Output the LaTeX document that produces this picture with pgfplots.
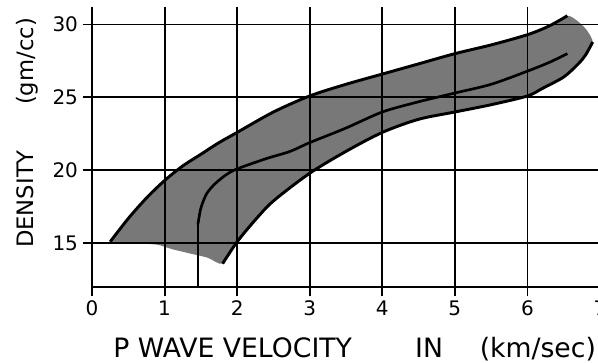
\documentclass[border=0pt]{standalone}
\usepackage{fontspec}
\setmainfont{DejaVu Sans}
\usepackage{pgfplots}
\pgfplotsset{compat=1.18}
\begin{document}
\begin{tikzpicture}
\begin{axis}[
  at={(0,0)}, anchor=south west,
  scale only axis, width=381pt, height=210pt,
  xmin=0, xmax=7, ymin=12, ymax=31.2,
  axis x line*=bottom, axis y line*=left,
  axis line style={black, line width=1.8pt},
  xtick={0,1,2,3,4,5,6,7}, ytick={15,20,25,30},
  grid=major, grid style={black, line width=1.4pt},
  tick align=outside, major tick length=7pt,
  tick style={black, line width=1.4pt},
  ticklabel style={font=\fontsize{15}{15}\selectfont},
  /pgf/number format/assume math mode=true,
  axis on top,
  clip=false,
]
% shaded band
\addplot[draw=none, fill=black!53, smooth, tension=0.4] coordinates {
 (0.25,15.1)(0.5,16.7)(0.75,18.1)(1.0,19.3)(1.25,20.3)(1.5,21.1)(1.75,21.9)(2.0,22.6)
 (2.5,24.0)(3.0,25.1)(3.5,25.9)(4.0,26.6)(4.5,27.3)(5.0,28.0)(5.5,28.6)(6.0,29.3)
 (6.3,29.9)(6.55,30.6)(6.7,30.2)(6.82,29.6)(6.9,28.8)
 (6.8,27.9)(6.7,27.3)(6.5,26.4)(6.2,25.6)(6.0,25.1)(5.5,24.5)(5.0,24.0)(4.5,23.5)
 (4.0,22.6)(3.5,21.3)(3.0,19.8)(2.5,17.9)(2.25,16.6)(2.0,15.1)(1.8,13.6)
 (1.6,14.0)(1.35,14.3)(1.1,14.6)(0.9,14.9)(0.6,15.0)
} -- cycle;
% upper boundary
\addplot[black, line width=2.2pt, smooth] coordinates {
 (0.25,15.1)(0.5,16.7)(0.75,18.1)(1.0,19.3)(1.25,20.3)(1.5,21.1)(1.75,21.9)(2.0,22.6)
 (2.5,24.0)(3.0,25.1)(3.5,25.9)(4.0,26.6)(4.5,27.3)(5.0,28.0)(5.5,28.6)(6.0,29.3)
 (6.3,29.9)(6.55,30.6)
};
% lower boundary
\addplot[black, line width=2.2pt, smooth] coordinates {
 (1.8,13.6)(2.0,15.1)(2.25,16.6)(2.5,17.9)(3.0,19.8)(3.5,21.3)(4.0,22.6)(4.5,23.5)
 (5.0,24.0)(5.5,24.5)(6.0,25.1)(6.2,25.6)(6.5,26.4)(6.7,27.3)(6.8,27.9)(6.9,28.8)
};
% middle curve
\addplot[black, line width=1.2pt] coordinates {(1.46,12.0)(1.46,16.3)};
\addplot[black, line width=2.0pt, smooth] coordinates {
 (1.46,16.3)(1.5,17.4)(1.58,18.4)(1.7,19.1)(1.85,19.7)(2.0,20.1)(2.4,20.8)(2.73,21.3)
 (3.0,21.9)(3.5,22.9)(4.0,24.0)(4.5,24.7)(5.0,25.3)(5.5,25.9)(6.0,26.8)(6.3,27.4)(6.55,28.0)
};
% labels
\node[anchor=base west, inner sep=0pt, font=\fontsize{20}{20}\selectfont] at (axis cs:0.29,7.2) {P WAVE VELOCITY};
\node[anchor=base west, inner sep=0pt, font=\fontsize{20}{20}\selectfont] at (axis cs:4.45,7.2) {IN};
\node[anchor=base west, inner sep=0pt, font=\fontsize{20}{20}\selectfont] at (axis cs:5.34,7.2) {(km/sec)};
\node[rotate=90, anchor=base west, inner sep=0pt, font=\fontsize{17}{17}\selectfont] at (axis cs:-0.81,14.67) {DENSITY};
\node[rotate=90, anchor=base west, inner sep=0pt, font=\fontsize{17}{17}\selectfont] at (axis cs:-0.81,24.47) {(gm/cc)};
\end{axis}
\pgfresetboundingbox
\path (-69pt,-57pt) rectangle (379.5pt,215.25pt);
\end{tikzpicture}
\end{document}
